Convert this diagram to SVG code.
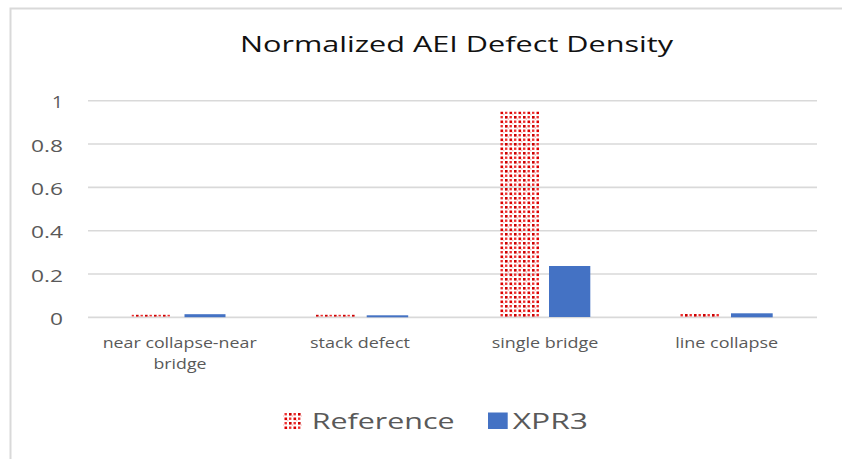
<svg xmlns="http://www.w3.org/2000/svg" width="842" height="459" viewBox="0 0 842 459">
  <defs>
    <!-- dotted red fill for the "Reference" series -->
    <pattern id="dots" patternUnits="userSpaceOnUse" x="500" y="111" width="9" height="9">
      <rect x="0.5" y="0.5" width="2.6" height="2.6" fill="#dd0000"/>
      <rect x="5" y="0.5" width="2.4" height="2.4" fill="#ec3030"/>
      <rect x="0.5" y="5" width="2.4" height="2.4" fill="#ec3030"/>
      <rect x="5" y="5" width="2.6" height="2.6" fill="#cc0000"/>
      <rect x="3.3" y="2.8" width="1" height="1.4" fill="#f6a0a0"/>
      <rect x="7.8" y="7.3" width="1" height="1.4" fill="#f6a0a0"/>
    </pattern>
    <style>
      .frame { fill: none; stroke: #d9d9d9; stroke-width: 2; }
      .grid { stroke: #d9d9d9; stroke-width: 1.6; }
      .axis { stroke: #d9d9d9; stroke-width: 1.8; }
      .title { font-family: "Open Sans", "Liberation Sans", sans-serif; font-size: 22px; fill: #111; }
      .tick { font-family: "Open Sans", "Liberation Sans", sans-serif; font-size: 15.5px; fill: #595959; text-anchor: end; }
      .cat { font-family: "Open Sans", "Liberation Sans", sans-serif; font-size: 15px; fill: #595959; text-anchor: middle; }
      .leg { font-family: "Open Sans", "Liberation Sans", sans-serif; font-size: 22px; fill: #595959; }
      .ref { fill: url(#dots); }
      .xpr { fill: #4472c4; }
    </style>
  </defs>

  <rect width="842" height="459" fill="#ffffff"/>
  <!-- chart area border -->
  <path class="frame" d="M10.5 459 V8.5 H842"/>

  <text class="title" x="240" y="52" textLength="433" lengthAdjust="spacingAndGlyphs">Normalized AEI Defect Density</text>

  <!-- value gridlines and labels -->
  <g id="y-axis">
    <line class="grid" x1="88" y1="100.7" x2="817" y2="100.7"/>
    <line class="grid" x1="88" y1="144" x2="817" y2="144"/>
    <line class="grid" x1="88" y1="187.4" x2="817" y2="187.4"/>
    <line class="grid" x1="88" y1="230.7" x2="817" y2="230.7"/>
    <line class="grid" x1="88" y1="274" x2="817" y2="274"/>
    <line class="axis" x1="88" y1="317.4" x2="817" y2="317.4"/>
    <text class="tick" x="63" y="108.3" textLength="11" lengthAdjust="spacingAndGlyphs">1</text>
    <text class="tick" x="63" y="151.6" textLength="32" lengthAdjust="spacingAndGlyphs">0.8</text>
    <text class="tick" x="63" y="195" textLength="32" lengthAdjust="spacingAndGlyphs">0.6</text>
    <text class="tick" x="63" y="238.3" textLength="32" lengthAdjust="spacingAndGlyphs">0.4</text>
    <text class="tick" x="63" y="281.6" textLength="32" lengthAdjust="spacingAndGlyphs">0.2</text>
    <text class="tick" x="63" y="325" textLength="13" lengthAdjust="spacingAndGlyphs">0</text>
  </g>

  <!-- bars per category -->
  <g id="cat-near-collapse">
    <rect class="ref" x="131.5" y="314.8" width="40" height="2.2"/>
    <rect class="xpr" x="184.5" y="314.2" width="41" height="3"/>
    <text class="cat" x="179.7" y="348" textLength="154" lengthAdjust="spacingAndGlyphs">near collapse-near</text>
    <text class="cat" x="180" y="369" textLength="53" lengthAdjust="spacingAndGlyphs">bridge</text>
  </g>
  <g id="cat-stack-defect">
    <rect class="ref" x="314" y="314.8" width="41" height="2.2"/>
    <rect class="xpr" x="366.7" y="315.3" width="41.5" height="2"/>
    <text class="cat" x="360" y="348" textLength="100" lengthAdjust="spacingAndGlyphs">stack defect</text>
  </g>
  <g id="cat-single-bridge">
    <rect class="ref" x="500" y="111.5" width="39" height="205.5"/>
    <rect class="xpr" x="549" y="266" width="41.3" height="51"/>
    <text class="cat" x="545" y="348" textLength="106.7" lengthAdjust="spacingAndGlyphs">single bridge</text>
  </g>
  <g id="cat-line-collapse">
    <rect class="ref" x="680" y="313.5" width="41" height="3.5"/>
    <rect class="xpr" x="731" y="313.3" width="41.7" height="4"/>
    <text class="cat" x="726.7" y="348" textLength="103" lengthAdjust="spacingAndGlyphs">line collapse</text>
  </g>

  <!-- legend -->
  <g id="legend">
    <rect class="ref" x="283.3" y="413" width="18.4" height="16"/>
    <text class="leg" x="311.7" y="429" textLength="143" lengthAdjust="spacingAndGlyphs">Reference</text>
    <rect class="xpr" x="488" y="412.5" width="19.7" height="16.5"/>
    <text class="leg" x="512.7" y="429" textLength="75.3" lengthAdjust="spacingAndGlyphs">XPR3</text>
  </g>
</svg>
